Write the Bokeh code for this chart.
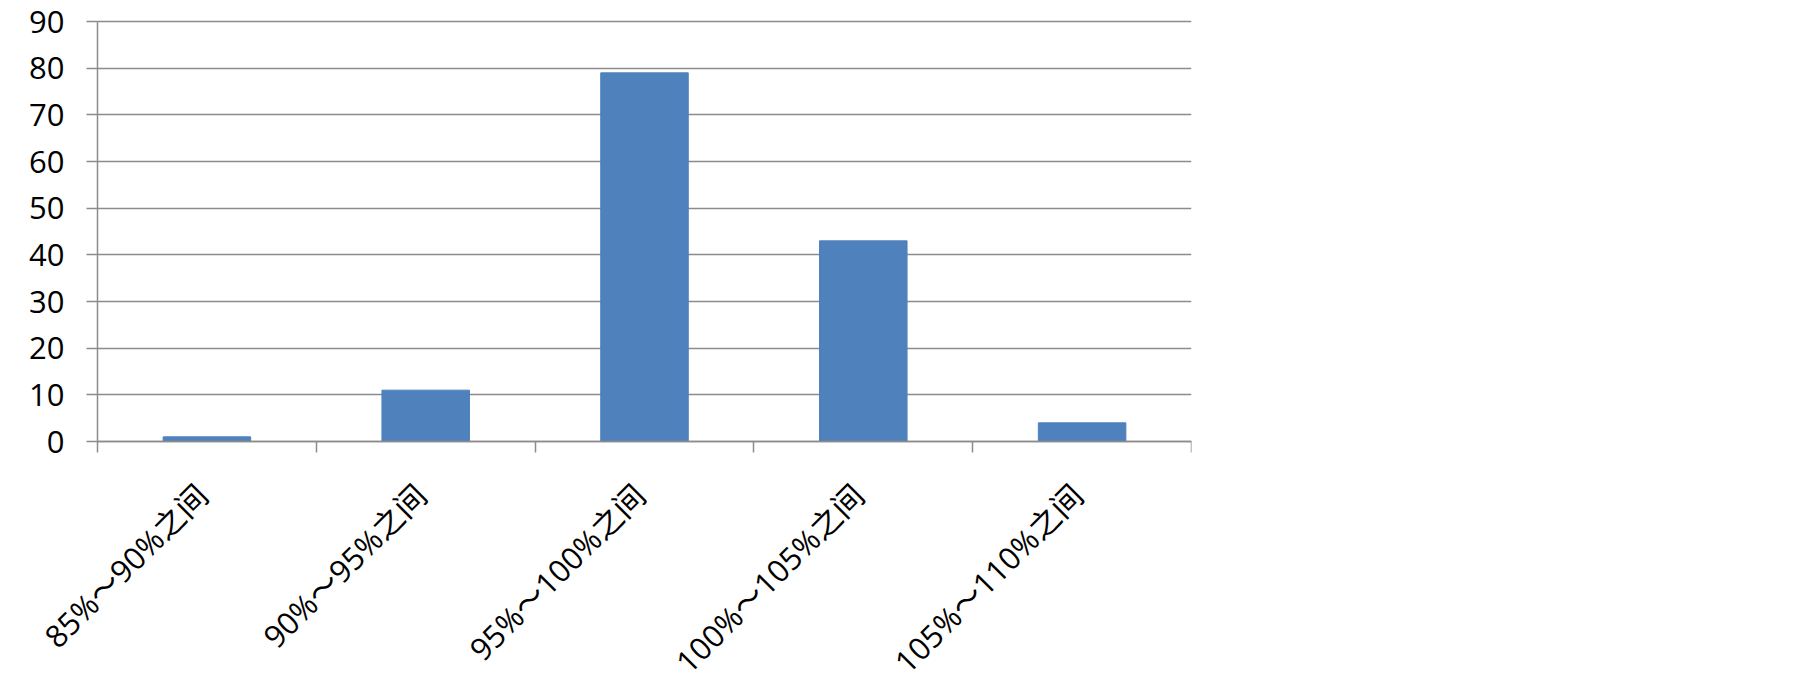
from bokeh.plotting import figure
from bokeh.models import Range1d, FixedTicker, ColumnDataSource, LabelSet
from bokeh.core.properties import value
from bokeh.embed import file_html
from bokeh.resources import INLINE
import math

categories = ["85%～90%之间", "90%～95%之间", "95%～100%之间", "100%～105%之间", "105%～110%之间"]
counts = [1, 11, 79, 43, 4]
y_ticks = [0, 10, 20, 30, 40, 50, 60, 70, 80, 90]
y_max = 90

FONT = "'Open Sans', 'Noto Sans CJK SC'"
GRID = "#8c8c8c"
BAR = "#4f81bd"

# ---- layout in canvas pixels (frame spans the whole canvas so rotated labels are not clipped)
W, H = 1789, 685
FRAME_L = 20            # frame left edge
AXIS_X = 97             # where category axis starts (x = 0)
AXIS_W = 1094           # value-axis plot width (5 categories)
TOP_Y = 21              # pixel row of y = y_max
AXIS_H = 420            # pixel height from 0 to y_max
ppx = AXIS_W / len(categories)
ppy = AXIS_H / y_max
x_lo = -(AXIS_X - FRAME_L) / ppx
y_hi = y_max + TOP_Y / ppy
y_lo = -(H - TOP_Y - AXIS_H) / ppy

xs = [i + 0.5 for i in range(len(categories))]
src = ColumnDataSource(dict(x=xs, y=[0] * len(categories), top=counts, cat=categories))
ysrc = ColumnDataSource(dict(x=[0] * len(y_ticks), y=y_ticks, t=[str(v) for v in y_ticks]))

p = figure(width=W, height=H, output_backend="svg", toolbar_location=None,
           x_range=Range1d(x_lo, len(categories)), y_range=Range1d(y_lo, y_hi),
           min_border_left=FRAME_L, min_border_right=W - AXIS_X - AXIS_W,
           min_border_top=0, min_border_bottom=0)
p.outline_line_color = None
p.background_fill_color = "white"
p.border_fill_color = "white"

p.xgrid.grid_line_color = None
p.ygrid.ticker = FixedTicker(ticks=y_ticks)
p.ygrid.bounds = (0, y_max)
p.ygrid.cross_bounds = (0, len(categories))
p.ygrid.grid_line_color = GRID
p.ygrid.grid_line_width = 1.5

p.vbar(x="x", top="top", width=0.4, bottom=0, source=src, fill_color=BAR, line_color=BAR, line_width=1)

# y axis, drawn at x = 0 (tick marks only; the numbers are drawn below as labels)
p.yaxis.fixed_location = 0
p.yaxis.bounds = (0, y_max)
p.yaxis.ticker = FixedTicker(ticks=[], minor_ticks=y_ticks)
p.yaxis.axis_line_color = GRID
p.yaxis.axis_line_width = 1.5
p.yaxis.major_tick_line_color = None
p.yaxis.major_tick_out = 0
p.yaxis.major_tick_in = 0
p.yaxis.minor_tick_line_color = GRID
p.yaxis.minor_tick_line_width = 1.5
p.yaxis.minor_tick_out = 11
p.yaxis.minor_tick_in = 0
p.yaxis.major_label_standoff = 0

# x axis, drawn at y = 0: category boundary ticks
p.xaxis.fixed_location = 0
p.xaxis.bounds = (0, len(categories))
p.xaxis.ticker = FixedTicker(ticks=[], minor_ticks=list(range(len(categories) + 1)))
p.xaxis.axis_line_color = GRID
p.xaxis.axis_line_width = 1.5
p.xaxis.major_tick_line_color = None
p.xaxis.major_tick_out = 0
p.xaxis.major_tick_in = 0
p.xaxis.minor_tick_line_color = GRID
p.xaxis.minor_tick_line_width = 1.5
p.xaxis.minor_tick_out = 11
p.xaxis.minor_tick_in = 0
p.xaxis.major_label_standoff = 0

# tick labels
p.add_layout(LabelSet(x="x", y="y", text="t", source=ysrc, text_align="right", text_baseline="middle",
                      x_offset=-33, text_font=value(FONT), text_font_size=value("31px"),
                      text_color="black"))
p.add_layout(LabelSet(x="x", y="y", text="cat", source=src, angle=math.pi / 4,
                      text_align="right", text_baseline="middle", x_offset=-5, y_offset=-48,
                      text_font=value(FONT), text_font_size=value("31px"), text_color="black"))

open("out.html", "w").write(file_html(p, INLINE))
